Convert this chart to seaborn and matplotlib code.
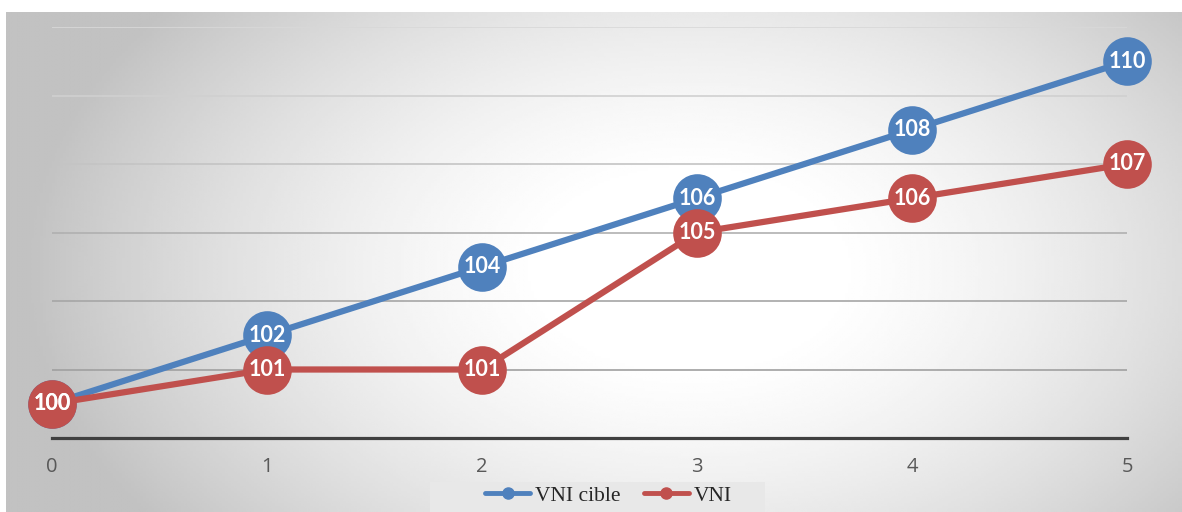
import numpy as np
import pandas as pd
import matplotlib
matplotlib.use("Agg")
import matplotlib.pyplot as plt
from matplotlib.lines import Line2D
from matplotlib.patches import Rectangle
import seaborn as sns

# data
periods = [0, 1, 2, 3, 4, 5]
vni_cible = [100, 102, 104, 106, 108, 110]
vni = [100, 101, 101, 105, 106, 107]
series_names = ["VNI cible", "VNI"]
colors = ["#4f81bd", "#c0504d"]

df = pd.DataFrame({"periode": periods * 2,
                   "valeur": vni_cible + vni,
                   "serie": [series_names[0]] * 6 + [series_names[1]] * 6})

sns.set_style("white")
W, H = 1182, 512
fig = plt.figure(figsize=(W / 100, H / 100), dpi=100)

# radial gradient background (chart area), white margin top/left
bg = fig.add_axes([6 / W, 0, 1 - 6 / W, 500 / H])
gx, gy = np.meshgrid(np.linspace(6, W, 400), np.linspace(12, H, 200))
r = np.sqrt(((gx - 690) / 680) ** 2 + ((gy - 270) / 440) ** 2)
shade = np.clip(1.02 - 0.27 * r ** 1.7, 0.76, 1.0)
bg.imshow(shade, cmap="gray", vmin=0, vmax=1, aspect="auto",
          extent=[0, 1, 0, 1], origin="upper", interpolation="bilinear")
bg.set_axis_off()

# plot area
ax = fig.add_axes([52 / W, (H - 438) / H, (1127 - 52) / W, (438 - 27) / H])
ax.patch.set_alpha(0)
ax.set_xlim(0, 5)
ax.set_ylim(99, 111)

grid_vals = [101, 103, 105, 107, 109, 111]
grid_cols = ["#a0a0a0", "#a6a6a6", "#b0b0b0", "#c4c4c4", "#d0d0d0", "#d8d8d8"]
for gv, gc in zip(grid_vals, grid_cols):
    ax.axhline(gv, color=gc, lw=1.2, zorder=1)

for name, col in zip(series_names, colors):
    sub = df[df["serie"] == name]
    sns.lineplot(data=sub, x="periode", y="valeur", color=col, lw=4.5,
                 marker="o", markersize=35, markeredgewidth=0,
                 ax=ax, legend=False, zorder=3, clip_on=False)
    for xv, yv in zip(sub["periode"], sub["valeur"]):
        ax.text(xv, yv, str(yv), ha="center", va="center", color="white",
                fontsize=15.5, fontweight="bold", family="Lato", zorder=5)

for s in ["top", "right", "left"]:
    ax.spines[s].set_visible(False)
ax.spines["bottom"].set_color("#404040")
ax.spines["bottom"].set_linewidth(2.3)
ax.set_yticks([])
ax.set_xticks(periods)
ax.tick_params(axis="x", length=0, pad=14, labelsize=14.5, labelcolor="#595959")
for t in ax.get_xticklabels():
    t.set_family("Open Sans")
ax.set_xlabel("")
ax.set_ylabel("")

# legend box (runs off the bottom edge)
fig.patches.append(Rectangle((430 / W, 0), 335 / W, 30 / H, transform=fig.transFigure,
                             facecolor="#e8e8e8", edgecolor="none", zorder=0))
handles = [Line2D([], [], color=c, lw=3.5, marker="o", markersize=8) for c in colors]
fig.legend(handles, series_names, loc="lower left", bbox_to_anchor=(470 / W, -9 / H),
           ncol=2, frameon=False, handlelength=2.1, handletextpad=0.2,
           columnspacing=1.1, borderpad=0.2,
           prop={"family": "Liberation Serif", "size": 15.5})

fig.savefig("out.png", dpi=100)
